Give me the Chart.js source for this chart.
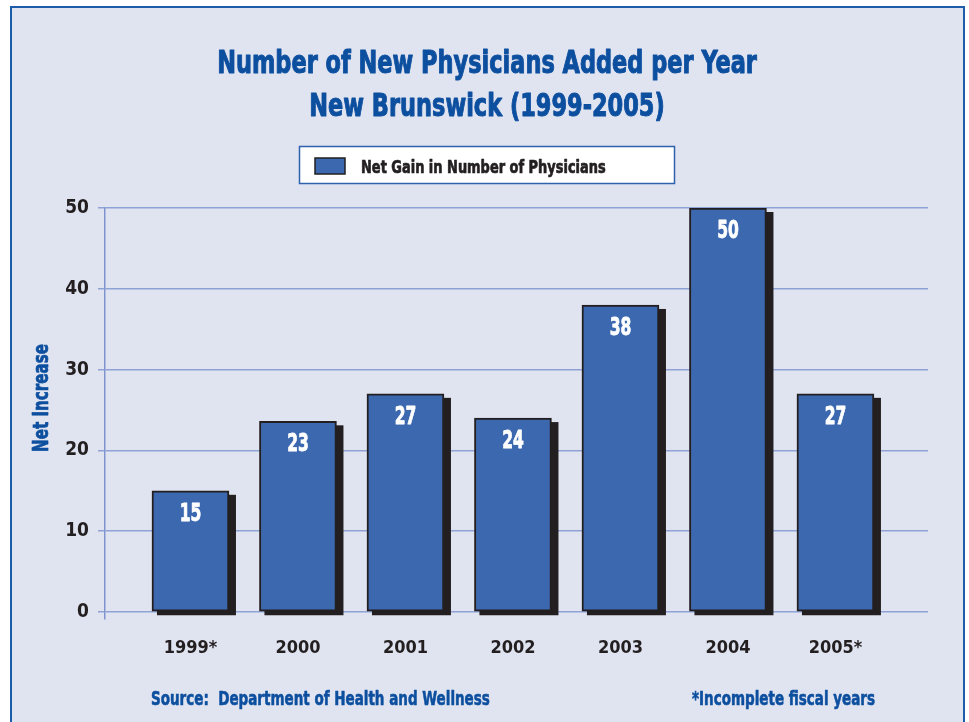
<!DOCTYPE html>
<html>
<head>
<meta charset="utf-8">
<script src="https://cdn.jsdelivr.net/npm/chart.js@4.4.1/dist/chart.umd.min.js"></script>
<style>
  html, body { margin: 0; padding: 0; background: #ffffff; overflow: hidden; }
  #frame {
    position: absolute; left: 10px; top: 6px; width: 951px; height: 740px;
    border: 2px solid #1d5ca8; background: #e0e4f0;
  }
  #wrap { position: absolute; left: 0; top: 0; width: 969px; height: 722px; }
</style>
</head>
<body>
<div id="frame"></div>
<div id="wrap"><canvas id="physChart"></canvas></div>
<script>
// values
const years = ['1999*', '2000', '2001', '2002', '2003', '2004', '2005*'];
const netGain = [15, 23.6, 27, 24, 38, 50, 27];
const gainLabels = ['15', '23', '27', '24', '38', '50', '27'];
const yTickValues = [0, 10, 20, 30, 40, 50];
const titleLines = ['Number of New Physicians Added per Year', 'New Brunswick (1999-2005)'];

const FONT = '"Liberation Sans Narrow", "DejaVu Sans Condensed", sans-serif';
const BLUE_TEXT = '#0d4f9f';
const DARK = '#231f20';
const BAR_BLUE = '#3b68ae';

Chart.defaults.font.family = FONT;

// the original uses a heavy condensed face, so squeeze text horizontally
function narrowText(ctx, text, x, y, o) {
    ctx.save();
    ctx.font = o.font + ' ' + FONT;
    ctx.fillStyle = o.color;
    ctx.strokeStyle = o.color;
    ctx.lineWidth = o.heavy || 0;
    ctx.lineJoin = 'round';
    ctx.textAlign = o.align || 'left';
    ctx.textBaseline = 'alphabetic';
    ctx.translate(x, y);
    if (o.rotate) ctx.rotate(o.rotate);
    ctx.scale(o.sx, 1);
    ctx.fillText(text, 0, 0);
    if (o.heavy) ctx.strokeText(text, 0, 0);
    ctx.restore();
}

// black drop shadow behind each bar
const barShadow = {
    id: 'barShadow',
    beforeDatasetDraw(chart) {
        const ctx = chart.ctx;
        const meta = chart.getDatasetMeta(0);
        ctx.save();
        ctx.fillStyle = DARK;
        meta.data.forEach(bar => {
            const { x, y, base, width } = bar.getProps(['x', 'y', 'base', 'width'], true);
            ctx.fillRect(x - width / 2 + 5, y + 4, width + 2, base - y);
        });
        ctx.restore();
    }
};

// white value labels inside the bars
const valueLabels = {
    id: 'valueLabels',
    afterDatasetsDraw(chart) {
        const meta = chart.getDatasetMeta(0);
        meta.data.forEach((bar, i) => {
            narrowText(chart.ctx, gainLabels[i], bar.x, bar.y + 30,
                { font: 'bold 24px', color: '#ffffff', align: 'center', sx: 0.72, heavy: 0.8 });
        });
    }
};

// title, boxed legend, axis title and footnotes
const extras = {
    id: 'extras',
    afterDraw(chart) {
        const ctx = chart.ctx;
        const ds = chart.data.datasets[0];

        narrowText(ctx, titleLines[0], 487, 73, { font: 'bold 32px', color: BLUE_TEXT, align: 'center', sx: 0.78, heavy: 1 });
        narrowText(ctx, titleLines[1], 487, 116, { font: 'bold 32px', color: BLUE_TEXT, align: 'center', sx: 0.78, heavy: 1 });

        ctx.save();
        ctx.fillStyle = '#ffffff';
        ctx.strokeStyle = '#2f62ad';
        ctx.lineWidth = 1.5;
        ctx.fillRect(299.5, 146.5, 375, 37);
        ctx.strokeRect(299.5, 146.5, 375, 37);
        ctx.fillStyle = ds.backgroundColor;
        ctx.strokeStyle = DARK;
        ctx.fillRect(315, 158, 30, 16);
        ctx.strokeRect(315, 158, 30, 16);
        ctx.restore();
        narrowText(ctx, ds.label, 361, 173, { font: 'bold 18px', color: DARK, sx: 0.8, heavy: 0.7 });

        narrowText(ctx, 'Net Increase', 48, 398,
            { font: 'bold 21px', color: BLUE_TEXT, align: 'center', sx: 0.8, rotate: -Math.PI / 2, heavy: 0.7 });

        narrowText(ctx, 'Source:  Department of Health and Wellness', 151, 705,
            { font: 'bold 20px', color: BLUE_TEXT, sx: 0.75, heavy: 0.6 });
        narrowText(ctx, '*Incomplete fiscal years', 692, 705,
            { font: 'bold 20px', color: BLUE_TEXT, sx: 0.75, heavy: 0.6 });
    }
};

const ctx = document.getElementById('physChart').getContext('2d');

new Chart(ctx, {
    type: 'bar',
    data: {
        datasets: [{
            label: 'Net Gain in Number of Physicians',
            data: netGain.map((v, i) => ({ x: i, y: v })),
            backgroundColor: BAR_BLUE,
            borderColor: DARK,
            borderWidth: 2,
            borderSkipped: false,
            barThickness: 77
        }]
    },
    options: {
        responsive: true,
        maintainAspectRatio: false,
        animation: false,
        layout: {
            padding: { left: 0, right: 41, top: 208, bottom: 0 }
        },
        plugins: {
            legend: { display: false },
            tooltip: { enabled: false },
            title: { display: false }
        },
        scales: {
            x: {
                type: 'linear',
                min: -0.795,
                max: 6.861,
                offset: false,
                grid: { display: false, drawTicks: false },
                border: { display: false },
                afterBuildTicks: (axis) => {
                    axis.ticks = years.map((y, i) => ({ value: i }));
                },
                afterFit: (axis) => { axis.height = 103; },
                ticks: {
                    autoSkip: false,
                    maxRotation: 0,
                    padding: 19,
                    color: DARK,
                    font: { size: 18, weight: 'bold' },
                    callback: (v) => years[v] ?? ''
                }
            },
            y: {
                min: -0.866,
                max: 50,
                afterBuildTicks: (axis) => {
                    axis.ticks = yTickValues.map(v => ({ value: v }));
                },
                afterFit: (axis) => { axis.width = 105; },
                grid: { color: '#8fa2d6', lineWidth: 1.5, tickLength: 7 },
                border: { display: true, color: '#7f94cf', width: 1.5 },
                ticks: {
                    padding: 9,
                    color: DARK,
                    font: { size: 19, weight: 'bold' }
                }
            }
        }
    },
    plugins: [barShadow, valueLabels, extras]
});
</script>
</body>
</html>
